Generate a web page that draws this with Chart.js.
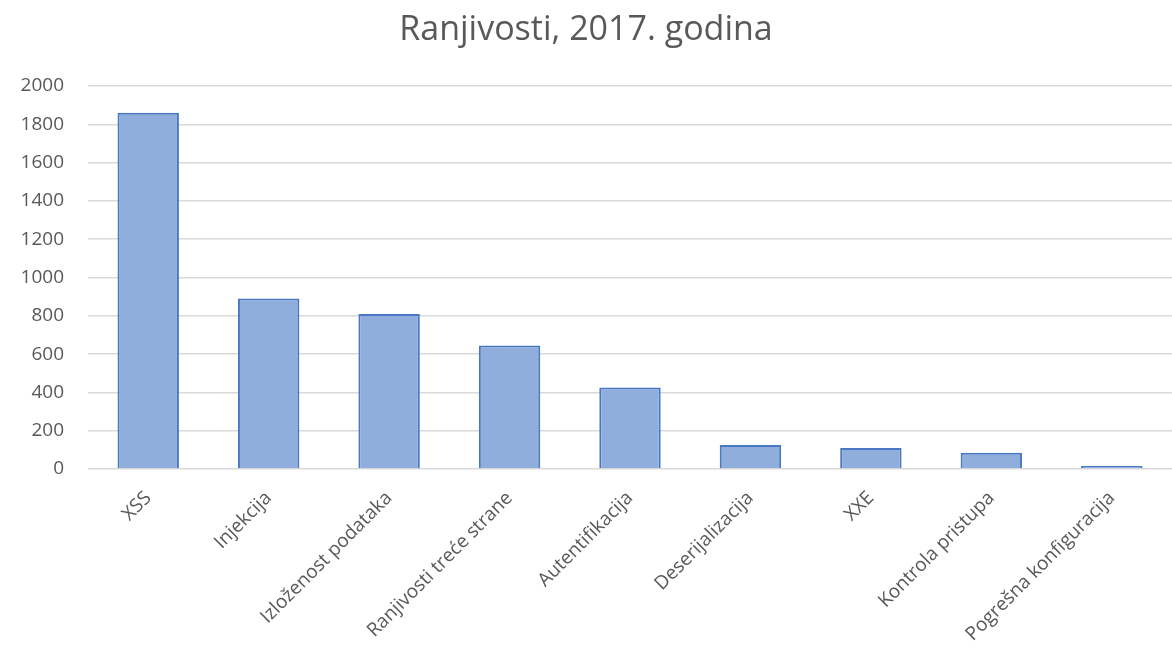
<!DOCTYPE html>
<html>
<head>
<meta charset="utf-8">
<script src="https://cdn.jsdelivr.net/npm/chart.js@4"></script>
<style>
  html, body { margin: 0; padding: 0; background: #ffffff; }
  #wrap { width: 1172px; height: 664px; position: relative; }
</style>
</head>
<body>
<div id="wrap"><canvas id="c"></canvas></div>
<script>
const titleText = "Ranjivosti, 2017. godina";
const categories = ["XSS", "Injekcija", "Izloženost podataka", "Ranjivosti treće strane", "Autentifikacija", "Deserijalizacija", "XXE", "Kontrola pristupa", "Pogrešna konfiguracija"];
const values = [1860, 890, 810, 645, 425, 125, 110, 85, 16];
const yMin = 0, yMax = 2000, yStep = 200;

const grey = '#595959';
const fontFam = '"Open Sans", "Liberation Sans", sans-serif';

new Chart(document.getElementById('c'), {
  type: 'bar',
  data: {
    labels: categories,
    datasets: [{
      data: values,
      backgroundColor: '#8FAEDB',
      borderColor: '#4878C4',
      borderWidth: 2,
      categoryPercentage: 1.0,
      barPercentage: 0.51
    }]
  },
  options: {
    responsive: true,
    maintainAspectRatio: false,
    animation: false,
    devicePixelRatio: 1,
    layout: { padding: 0 },
    plugins: {
      legend: { display: false },
      tooltip: { enabled: false },
      title: {
        display: true,
        text: titleText,
        color: grey,
        font: { family: fontFam, size: 34, weight: 'normal' },
        padding: { top: 10, bottom: 35.2 }
      }
    },
    scales: {
      x: {
        grid: { display: false, drawTicks: false },
        border: { display: false },
        ticks: {
          color: grey,
          font: { family: fontFam, size: 19 },
          maxRotation: 45,
          minRotation: 45,
          autoSkip: false,
          padding: 18
        },
        afterFit: s => { s.height = 195; }
      },
      y: {
        min: yMin,
        max: yMax,
        grid: { color: '#D9D9D9', lineWidth: 1.5, drawTicks: false },
        border: { display: false },
        ticks: {
          stepSize: yStep,
          color: grey,
          font: { family: fontFam, size: 19 },
          padding: 24,
          callback: v => String(v)
        },
        afterFit: s => { s.width = 88; }
      }
    }
  }
});
</script>
</body>
</html>
